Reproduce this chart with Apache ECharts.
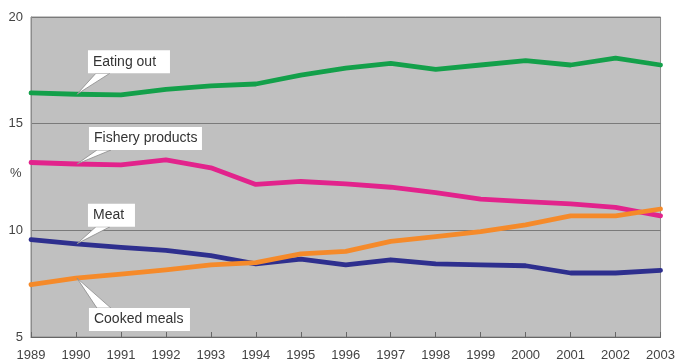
<!DOCTYPE html>
<html>
<head>
<meta charset="utf-8">
<script src="https://cdn.jsdelivr.net/npm/echarts@6/dist/echarts.min.js"></script>
<style>
  html, body { margin: 0; padding: 0; background: #fff; }
  #chart { width: 678px; height: 364px; }
</style>
</head>
<body>
<div id="chart"></div>
<script>
// Share of food expenditure by category, 1989–2003 (%)
const years = ['1989','1990','1991','1992','1993','1994','1995','1996','1997','1998','1999','2000','2001','2002','2003'];
const eatingOut = [16.44, 16.38, 16.35, 16.61, 16.77, 16.86, 17.28, 17.6, 17.83, 17.55, 17.75, 17.95, 17.75, 18.07, 17.75];
const fishery   = [13.18, 13.11, 13.07, 13.3, 12.93, 12.15, 12.29, 12.18, 12.02, 11.77, 11.46, 11.35, 11.24, 11.08, 10.68];
const meat      = [9.56, 9.37, 9.2, 9.06, 8.81, 8.43, 8.65, 8.38, 8.62, 8.43, 8.38, 8.34, 8.0, 8.0, 8.12];
const cooked    = [7.45, 7.76, 7.95, 8.15, 8.38, 8.49, 8.9, 9.01, 9.48, 9.71, 9.94, 10.26, 10.68, 10.68, 11.0];
const yTicks = [5, 10, 15, 20];

const FONT = '"Liberation Sans", Arial, sans-serif';
const chart = echarts.init(document.getElementById('chart'));

function line(name, data, color) {
  return {
    name, type: 'line', data, symbol: 'none', smooth: false,
    lineStyle: { color, width: 4.8, join: 'round', cap: 'round' },
    z: 3
  };
}

chart.setOption({
  animation: false,
  grid: {
    left: 31, right: 14, top: 17, bottom: 27,
    show: true, backgroundColor: '#c0c0c0', borderColor: '#8c8c8c', borderWidth: 1
  },
  xAxis: {
    type: 'category', data: years, boundaryGap: false,
    axisLine: { lineStyle: { color: '#666', width: 1 } },
    axisTick: { inside: true, length: 5, lineStyle: { color: '#666' } },
    axisLabel: { color: '#444', fontFamily: FONT, fontSize: 13, margin: 12, interval: 0 },
    splitLine: { show: false }
  },
  yAxis: {
    type: 'value', min: 5, max: 20, interval: 5,
    axisLine: { show: true, lineStyle: { color: '#8c8c8c' } },
    axisTick: { show: false },
    axisLabel: { color: '#444', fontFamily: FONT, fontSize: 13, margin: 8,
      formatter: v => yTicks.includes(v) ? String(v) : '' },
    splitLine: { show: true, lineStyle: { color: '#7a7a7a', width: 1.2 } }
  },
  series: [
    line('Eating out', eatingOut, '#13a04a'),
    line('Fishery products', fishery, '#e2238c'),
    line('Meat', meat, '#2e2f8e'),
    line('Cooked meals', cooked, '#f58a2a')
  ]
});

// Callout boxes anchored to the 1990 point of each series
function callout(text, data, dx, dy, w) {
  const tip = chart.convertToPixel({ gridIndex: 0 }, [years[1], data[1]]);
  const bx = tip[0] + dx, by = tip[1] + dy, h = 23;
  const above = dy < 0;
  const baseY = above ? by + h : by;
  const pointer = {
    type: 'polygon', z: 10,
    shape: { points: [[bx + 8, baseY], [bx + 22, baseY], [tip[0] + 1, tip[1]]] },
    style: { fill: '#fff', stroke: '#8a8a8a', lineWidth: 0.8 }
  };
  const box = {
    type: 'rect', z: 11,
    shape: { x: bx, y: by, width: w, height: h },
    style: { fill: '#fff', stroke: 'none' }
  };
  const label = {
    type: 'text', z: 12, x: bx + 5, y: by + h / 2,
    style: { text, font: '14px ' + FONT, fill: '#333', textVerticalAlign: 'middle' }
  };
  return [pointer, box, label];
}

chart.setOption({
  graphic: [
    ...callout('Eating out', eatingOut, 12, -44, 82),
    ...callout('Fishery products', fishery, 13, -37, 113),
    ...callout('Meat', meat, 12, -40, 47),
    ...callout('Cooked meals', cooked, 13, 30, 101),
    { type: 'text', x: 10, y: 167, style: { text: '%', font: '13px ' + FONT, fill: '#444' } }
  ]
});
</script>
</body>
</html>
